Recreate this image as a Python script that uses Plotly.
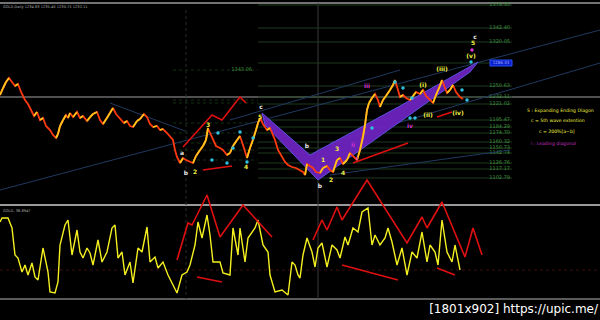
import plotly.graph_objects as go

# ---------------- data (chart units: x = bar position, y = level, drawn on reversed axis) -------------
price_x = [0,3,6,9,12,15,18,21,25,28,31,34,37,40,43,46,50,53,56,58,60,63,66,68,70,73,77,80,83,87,90,93,97,100,
           103,107,110,113,116,120,124,127,130,133,137,140,144,147,150,153,157,160,163,167,170,173,175,177,180,
           183,186,190,193,196,200,203,206,208,210,213,216,220,223,227,230,233,237,240,243,247,250,253,256,258,
           260,263,267,270,272,275,278,281,285,288,292,296,300,303,305,307,310,313,316,320,323,327,330,333,337,
           340,343,347,350,353,357,360,363,365,367,369,372,375,378,380,383,386,390,393,395,398,400,403,406,410,
           413,416,420,423,426,430,433,436,440,442,445,447,450,453,456,460,463]
price_y = [95,88,82,78,82,86,84,92,100,104,110,116,112,120,118,126,130,135,138,134,126,120,115,118,113,117,112,118,
           116,121,117,114,112,120,124,118,113,108,114,119,123,121,126,127,121,119,114,117,124,127,126,130,129,133,
           136,140,150,157,163,158,160,162,163,156,150,146,140,128,133,140,146,148,150,155,153,146,140,136,145,158,
           148,140,130,123,118,124,130,128,133,140,150,155,162,165,167,168,170,172,175,164,166,168,172,173,168,166,
           170,172,160,158,164,160,153,156,160,150,137,125,110,103,98,94,100,107,100,96,90,85,80,90,97,95,98,100,96,
           92,94,90,96,100,103,95,86,80,88,93,90,85,92,97,99]

osc_x = [0,2,8,12,15,18,22,25,28,32,35,38,43,48,50,55,58,60,65,68,72,77,80,83,87,90,93,98,102,107,112,115,118,122,
         125,130,133,138,142,147,150,155,158,163,168,173,177,182,187,190,195,198,202,207,210,213,220,223,230,233,238,
         240,245,248,255,258,263,268,270,275,282,288,292,295,298,300,303,307,312,315,318,322,327,332,337,340,345,348,
         353,358,362,368,372,375,380,385,388,392,397,402,407,412,417,422,427,430,435,438,442,447,452,455,460]
osc_y = [222,218,218,228,255,258,272,265,275,263,277,280,248,272,292,293,282,245,225,220,255,230,252,258,248,253,265,
         240,262,252,228,225,258,252,275,262,283,248,252,227,262,257,268,262,275,285,293,275,272,265,245,222,238,215,
         235,262,262,273,275,228,255,228,262,238,228,220,245,252,275,292,290,295,262,265,275,278,255,238,252,267,248,
         243,267,245,250,258,237,245,228,232,212,208,245,235,245,238,228,242,265,248,275,252,258,232,262,245,252,265,
         220,252,262,245,270]

# red wave drawings
red_price_zig_x = [183,200,212,222,240,246]
red_price_zig_y = [147,128,115,120,97,103]
red_price_arrows = [([203,232],[170,166]), ([353,408],[163,143]), ([437,452],[117,112])]
red_osc_zig1_x = [177,188,192,207,220,243,272]
red_osc_zig1_y = [260,223,225,195,237,205,237]
red_osc_zig2_x = [313,322,327,337,342,367,407,422,427,442,465,473,482]
red_osc_zig2_y = [240,220,230,207,220,180,243,217,228,202,257,228,255]
red_osc_arrows = [([197,222],[277,282]), ([342,398],[265,280]), ([437,455],[268,275])]

# purple ribbon (ending diagonal channel)
ribbon_x = [262,310,400,478,470,400,318,265]
ribbon_y = [113,155,106,62,72,122,180,125]

# trend lines
trend_lines = [([0,600],[190,30]), ([330,600],[143,63]), ([230,400],[120,70]), ([110,185],[103,131]),
               ([330,510],[175,150])]

# fibonacci levels (right set); the 1286.43 level is shown in the blue highlight box
fib_y = [5,28,42,63,86,97,104,120,127,133,142,148,153,163,169,178]
fib_labels = ["1379.35","1342.40","1320.05","","1250.63","1232.11","1221.02","1195.47",
              "1184.29","1174.70","1160.32","1150.73","1142.74","1126.76","1117.17","1102.79"]
fib_x0, fib_x1 = 258, 512
left_fib_y = [70,100,103,123,133,143,150,160]
left_fib_x0, left_fib_x1 = 173, 258

# wave labels
yellow_lbl = [(195,172,"2"),(246,167,"4"),(260,117,"5"),(208,125,"3"),(323,160,"1"),(337,149,"3"),
              (331,180,"2"),(343,173,"4"),(423,85,"(i)"),(442,69,"(iii)"),(471,56,"(v)"),(473,43,"5"),
              (428,115,"(ii)"),(458,113,"(iv)")]
white_lbl = [(186,173,"b"),(261,107,"c"),(307,146,"b"),(320,186,"b"),(475,37,"c"),(182,153,"a")]
magenta_lbl = [(367,86,"iii"),(410,126,"iv"),(353,145,"ii"),(357,158,"i")]
cyan_dots_x = [212,227,247,218,240,372,395,403,412,410,415,471,462,467,233,253]
cyan_dots_y = [160,163,162,133,132,128,82,88,98,118,118,62,90,100,148,138]
magenta_dots_x = [472]
magenta_dots_y = [50]

notes = [(527,111,"5 : Expanding Ending Diagon","#f0f040"),
         (531,121,"c = 5th wave extention","#f0f040"),
         (539,132,"c = 200%[a~b]","#f0f040"),
         (531,144,"i : Leading diagonal","#c030c0")]

blue_box_x = [490,512,512,490,490]
blue_box_y = [60,60,66,66,60]
blue_box_text = "1286.43"

sep_lines_y = [3,205,299]
price_line_y = 97
vlines_x = [318,186]

# ---------------- figure ----------------
fig = go.Figure()

def line(xs, ys, color, width=1, dash="solid", opacity=1.0):
    fig.add_trace(go.Scatter(x=xs, y=ys, mode="lines", line=dict(color=color, width=width, dash=dash),
                             opacity=opacity, hoverinfo="skip", showlegend=False))

# panel separators
for i, yv in enumerate(sep_lines_y):
    line([0,600],[yv,yv], "#9a9a9a" if i < 2 else "#7a7a7a", 2 if i == 1 else 1.5)
line([0,600],[price_line_y,price_line_y], "#505050", 2)
line([vlines_x[0]]*2, [3,299], "#3a3a3a", 1)
line([vlines_x[1]]*2, [10,299], "#2a2a2a", 1, "dot")
line([0,600],[270,270], "#3e0c0c", 1, "dot")

# fib levels
for yv in fib_y:
    line([fib_x0, fib_x1],[yv,yv], "#1f3a1f", 1)
for yv in left_fib_y:
    line([left_fib_x0, left_fib_x1],[yv,yv], "#153015", 1, "dot")
fig.add_trace(go.Scatter(x=[fib_x1-2]*len(fib_y), y=fib_y, mode="text", text=fib_labels,
                         textposition="middle left", textfont=dict(color="#3f8f3f", size=5, family="DejaVu Sans"),
                         hoverinfo="skip", showlegend=False))
fig.add_trace(go.Scatter(x=[252], y=[70], mode="text", text=["1343.06"], textposition="middle left",
                         textfont=dict(color="#3f8f3f", size=5, family="DejaVu Sans"), hoverinfo="skip", showlegend=False))

# trend lines
for xs, ys in trend_lines:
    line(xs, ys, "#203a60", 1)

# ribbon
fig.add_trace(go.Scatter(x=ribbon_x + [ribbon_x[0]], y=ribbon_y + [ribbon_y[0]], mode="lines", fill="toself",
                         fillcolor="rgba(112,36,196,0.92)", line=dict(color="#5a50e0", width=1),
                         hoverinfo="skip", showlegend=False))

# blue box
fig.add_trace(go.Scatter(x=blue_box_x, y=blue_box_y, mode="lines", fill="toself", fillcolor="#0a20c8",
                         line=dict(color="#2a50ff", width=1), hoverinfo="skip", showlegend=False))
fig.add_trace(go.Scatter(x=[501], y=[63], mode="text", text=[blue_box_text],
                         textfont=dict(color="#a0b0ff", size=4, family="DejaVu Sans"), hoverinfo="skip", showlegend=False))

# price: down segments red, up segments yellow
line(price_x, price_y, "#ff3a10", 1.8)
ux, uy = [], []
for i in range(len(price_x) - 1):
    if price_y[i+1] < price_y[i]:
        ux += [price_x[i], price_x[i+1], None]
        uy += [price_y[i], price_y[i+1], None]
line(ux, uy, "#ffc81a", 1.8)

# red wave drawings
line(red_price_zig_x, red_price_zig_y, "#e01010", 1.6)
for xs, ys in red_price_arrows:
    line(xs, ys, "#e01010", 1.6)

# oscillator
line(osc_x, osc_y, "#f5f020", 1.4)
line(red_osc_zig1_x, red_osc_zig1_y, "#e01010", 1.6)
line(red_osc_zig2_x, red_osc_zig2_y, "#e01010", 1.6)
for xs, ys in red_osc_arrows:
    line(xs, ys, "#e01010", 1.6)

# markers
fig.add_trace(go.Scatter(x=cyan_dots_x, y=cyan_dots_y, mode="markers", marker=dict(color="#30c0e0", size=3.5),
                         hoverinfo="skip", showlegend=False))
fig.add_trace(go.Scatter(x=magenta_dots_x, y=magenta_dots_y, mode="markers", marker=dict(color="#e030e0", size=3.5),
                         hoverinfo="skip", showlegend=False))

def labels(items, color, size=6):
    fig.add_trace(go.Scatter(x=[a[0] for a in items], y=[a[1] for a in items], mode="text",
                             text=[a[2] for a in items],
                             textfont=dict(color=color, size=size, family="DejaVu Sans", weight="bold"),
                             hoverinfo="skip", showlegend=False))

labels(yellow_lbl, "#f0f040")
labels(white_lbl, "#e8e8e8")
labels(magenta_lbl, "#d030d0")

# notes
fig.add_trace(go.Scatter(x=[n[0] for n in notes], y=[n[1] for n in notes], mode="text",
                         text=[n[2] for n in notes], textposition="middle right",
                         textfont=dict(color=[n[3] for n in notes], size=4.6, family="DejaVu Sans"),
                         hoverinfo="skip", showlegend=False))

# headers
fig.add_trace(go.Scatter(x=[3, 3], y=[7, 211], mode="text",
                         text=["GOLD,Daily 1234.83 1235.40 1230.75 1232.11", "GOLD, 36.8947"],
                         textposition="middle right", textfont=dict(color="#b0b0b0", size=3.6, family="DejaVu Sans"),
                         hoverinfo="skip", showlegend=False))

# watermark
fig.add_trace(go.Scatter(x=[598], y=[310], mode="text", text=["[1801x902] https://upic.me/"],
                         textposition="middle left", textfont=dict(color="#ffffff", size=12, family="DejaVu Sans"),
                         hoverinfo="skip", showlegend=False))

fig.update_layout(width=600, height=320, margin=dict(l=0, r=0, t=0, b=0),
                  paper_bgcolor="black", plot_bgcolor="black", showlegend=False,
                  xaxis=dict(range=[0,600], visible=False, fixedrange=True),
                  yaxis=dict(range=[320,0], visible=False, fixedrange=True))
fig.write_html("out.html")
